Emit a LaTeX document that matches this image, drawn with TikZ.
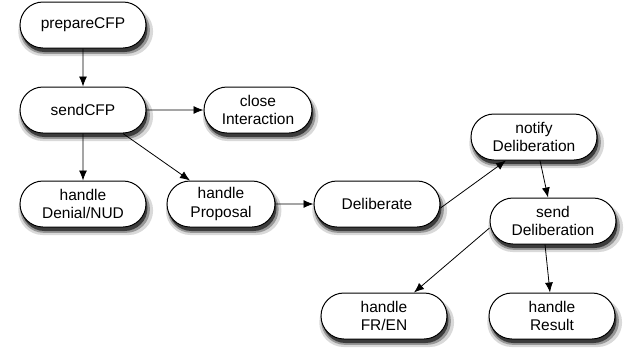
\documentclass[tikz,border=0pt]{standalone}
\usepackage{fontspec}
\setmainfont{Liberation Sans}
\usetikzlibrary{positioning,arrows.meta,shapes.misc,shadows}

\begin{document}
\begin{tikzpicture}[
  x=1pt, y=-1pt,
  font=\fontsize{15.5}{18.5}\selectfont,
  >={Latex[length=10pt,width=8pt]},
  task/.style={rounded rectangle, draw=black, line width=1pt, fill=white, align=center,
               minimum width=130pt, minimum height=46pt, inner sep=2pt,
               drop shadow={shadow xshift=2.5pt, shadow yshift=-6pt, shadow scale=1.07,
                            fill=black, opacity=0.15},
               drop shadow={shadow xshift=2pt, shadow yshift=-5pt, shadow scale=1.03,
                            fill=black, opacity=0.3},
               drop shadow={shadow xshift=1.5pt, shadow yshift=-4pt,
                            fill=black, opacity=0.6}},
  narrow/.style={task, minimum width=112pt},
  flow/.style={->, line width=0.8pt, draw=black},
]
\useasboundingbox (0,0) rectangle (630,349);

% ---- left column: CFP handling ----
\node[task] (prep) at (83,25) {prepareCFP};
\node[task, below=38pt of prep] (send) {sendCFP};
\node[narrow, right=57pt of send] (close) {close\\Interaction};
\node[task, below=47pt of send] (denial) {handle\\Denial/NUD};
\node[narrow, right=20pt of denial] (prop) {handle\\Proposal};
\node[task, right=38pt of prop] (delib) {Deliberate};

% ---- right group: deliberation ----
\node[task] (notify) at (534,137) {notify\\Deliberation};
\node[task] (senddel) at (553,221) {send\\Deliberation};
\node[task] (fren) at (384,316) {handle\\FR/EN};
\node[task] (result) at (552,316) {handle\\Result};

% ---- flows ----
\draw[flow] (prep) -- (send);
\draw[flow] (send) -- (close);
\draw[flow] (send) -- (denial);
\draw[flow] (send.south east) -- (prop.north west);
\draw[flow] (prop) -- (delib);
\draw[flow] ([yshift=-4pt]delib.east) -- ([xshift=12pt]notify.south west);
\draw[flow] ([xshift=6pt]notify.south) -- ([xshift=-5pt]senddel.north);
\draw[flow] ([yshift=-7pt]senddel.west) -- ([xshift=-10pt]fren.north east);
\draw[flow] ([xshift=-8pt]senddel.south) -- ([xshift=-2pt]result.north);
\end{tikzpicture}
\end{document}
